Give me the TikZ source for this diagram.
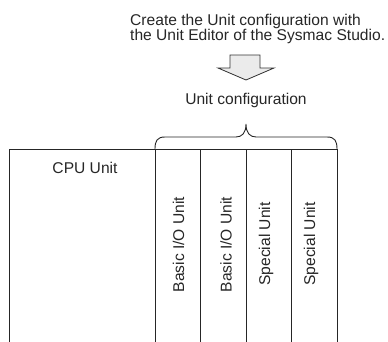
\documentclass[tikz,border=0pt]{standalone}
\usepackage{fontspec}
\setmainfont{Liberation Sans}
\begin{document}
\begin{tikzpicture}[x=1bp,y=-1bp,
  lbl/.style={inner sep=0pt,font=\fontsize{15.6bp}{15bp}\selectfont,text=black!85},
  vlbl/.style={lbl,rotate=90,anchor=base},
  frame/.style={line width=0.9bp,draw=black!85},
  blockarrow/.style={line width=0.8bp,draw=black!80,fill=black!8}]
\useasboundingbox (0,0) rectangle (388,342);
% top text
\node[lbl,anchor=base west] (t1) at (130,25) {Create the Unit configuration with};
\node[lbl,anchor=base west] (t2) at (130,40) {the Unit Editor of the Sysmac Studio.};
% block arrow
\draw[blockarrow] (230,55) -- (260,55) -- (260,68) -- (274,68) -- (246,80) -- (218,68) -- (230,68) -- cycle;
\node[lbl,anchor=base] (uc) at (246,104) {Unit configuration};
% brace
\draw[frame] (155,149) .. controls (155,141) and (157,137) .. (165,137) -- (236,137)
  .. controls (242,137) and (246,133) .. (246,124)
  .. controls (246,133) and (250,137) .. (256,137) -- (327,137)
  .. controls (335,137) and (337,141) .. (337,149);
% frame
\begin{scope}
\clip (0,0) rectangle (388,342);
\draw[frame] (9,345) -- (9,149) -- (337,149) -- (337,345);
\foreach \x in {155,200,246,291} \draw[frame] (\x,149) -- (\x,345);
\end{scope}
% labels
\node[lbl,anchor=base] (cpu) at (85,173) {CPU Unit};
\node[vlbl] (b1) at (184,244.5) {Basic I/O Unit};
\node[vlbl] (b2) at (231.5,244.5) {Basic I/O Unit};
\node[vlbl] (s1) at (270,244) {Special Unit};
\node[vlbl] (s2) at (315,244) {Special Unit};
\end{tikzpicture}
\end{document}
